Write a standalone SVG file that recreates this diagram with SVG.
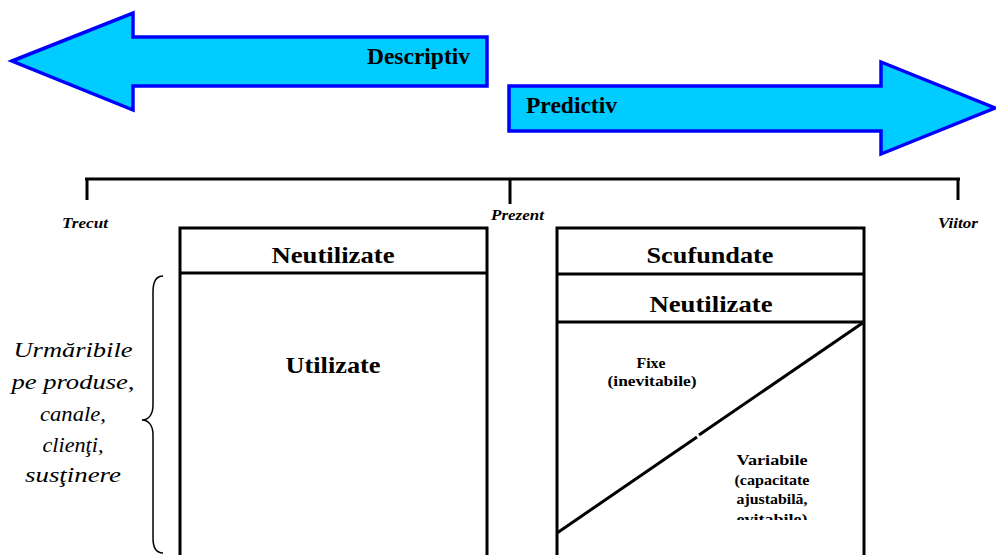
<svg xmlns="http://www.w3.org/2000/svg" width="996" height="555" viewBox="0 0 996 555">
<defs>
<style>
.arrow{fill:#00CCFF;stroke:#0000FF;stroke-width:3.5;stroke-linejoin:miter}
.ln{stroke:#000;stroke-width:3;fill:none}
.t{font-family:"Liberation Serif",serif;font-weight:bold;fill:#000}
.big{font-size:24px;text-anchor:middle}
.arr{font-size:22.5px}
.tl{font-size:15px;font-style:italic}
.sm{font-size:15px;text-anchor:middle}
.it{font-family:"Liberation Serif",serif;font-style:italic;font-size:22px;text-anchor:middle;fill:#000}
</style>
<clipPath id="clipVar"><rect x="557" y="322" width="307" height="198"/></clipPath>
</defs>
<g id="arrow-descriptiv">
<polygon class="arrow" points="12,61 133,13 133,37 487,37 487,86 133,86 133,110"/>
<text class="t arr" x="367" y="64" textLength="103" lengthAdjust="spacingAndGlyphs">Descriptiv</text>
</g>
<g id="arrow-predictiv">
<polygon class="arrow" points="509,86 881,86 881,62 995,108 881,154 881,131 509,131"/>
<text class="t arr" x="526" y="113" textLength="91" lengthAdjust="spacingAndGlyphs">Predictiv</text>
</g>
<g id="timeline">
<line class="ln" x1="85" y1="179" x2="960" y2="179"/>
<line class="ln" x1="87" y1="178" x2="87" y2="200"/>
<line class="ln" x1="510" y1="178" x2="510" y2="204"/>
<line class="ln" x1="958" y1="178" x2="958" y2="200"/>
<text class="t tl" x="62" y="228" textLength="46" lengthAdjust="spacingAndGlyphs">Trecut</text>
<text class="t tl" x="491" y="220" textLength="53" lengthAdjust="spacingAndGlyphs">Prezent</text>
<text class="t tl" x="938" y="228" textLength="40" lengthAdjust="spacingAndGlyphs">Viitor</text>
</g>
<g id="box-left">
<polyline class="ln" points="180,560 180,228 487,228 487,560"/>
<line class="ln" x1="180" y1="273" x2="487" y2="273"/>
<text class="t big" x="333" y="263" textLength="123" lengthAdjust="spacingAndGlyphs">Neutilizate</text>
<text class="t big" x="333" y="373" textLength="95" lengthAdjust="spacingAndGlyphs">Utilizate</text>
</g>
<g id="box-right">
<polyline class="ln" points="557,560 557,228 864,228 864,560"/>
<line class="ln" x1="557" y1="274" x2="864" y2="274"/>
<line class="ln" x1="557" y1="322" x2="864" y2="322"/>
<text class="t big" x="710" y="263" textLength="127" lengthAdjust="spacingAndGlyphs">Scufundate</text>
<text class="t big" x="711" y="312" textLength="123" lengthAdjust="spacingAndGlyphs">Neutilizate</text>
<line class="ln" x1="557" y1="533" x2="697" y2="437"/>
<line class="ln" x1="699" y1="435" x2="864" y2="322"/>
<text class="t sm" x="651" y="368" textLength="29" lengthAdjust="spacingAndGlyphs">Fixe</text>
<text class="t sm" x="652" y="386" textLength="89" lengthAdjust="spacingAndGlyphs">(inevitabile)</text>
<g clip-path="url(#clipVar)">
<text class="t sm" x="772" y="465" textLength="71" lengthAdjust="spacingAndGlyphs">Variabile</text>
<text class="t sm" x="772" y="485" textLength="75" lengthAdjust="spacingAndGlyphs">(capacitate</text>
<text class="t sm" x="772" y="504" textLength="71" lengthAdjust="spacingAndGlyphs">ajustabilă,</text>
<text class="t sm" x="772" y="524" textLength="71" lengthAdjust="spacingAndGlyphs">evitabile)</text>
</g>
</g>
<g id="brace-label">
<path d="M163,276 C156,276 153,282 153,292 L153,405 C153,414 149,420 142,420 C149,420 153,426 153,435 L153,538 C153,548 156,553 163,553" fill="none" stroke="#000" stroke-width="1.5"/>
<text class="it" x="73" y="357" textLength="119" lengthAdjust="spacingAndGlyphs">Urmăribile</text>
<text class="it" x="73" y="389" textLength="123" lengthAdjust="spacingAndGlyphs">pe produse,</text>
<text class="it" x="73" y="421" textLength="66" lengthAdjust="spacingAndGlyphs">canale,</text>
<text class="it" x="73" y="452" textLength="61" lengthAdjust="spacingAndGlyphs">clienţi,</text>
<text class="it" x="73" y="482" textLength="96" lengthAdjust="spacingAndGlyphs">susţinere</text>
</g>
</svg>
